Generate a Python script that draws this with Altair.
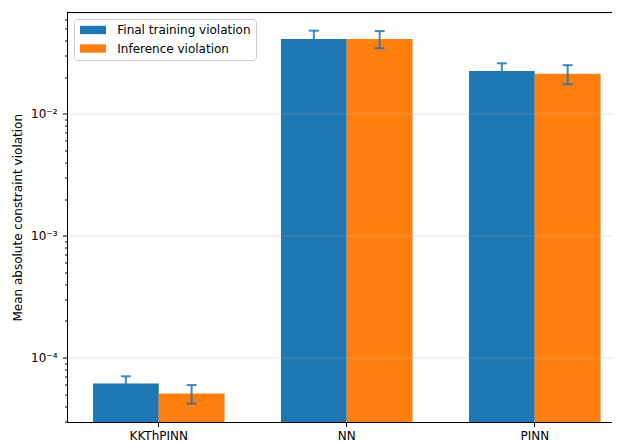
import altair as alt
import pandas as pd

categories = ["KKThPINN", "NN", "PINN"]
series = ["Final training violation", "Inference violation"]
train_vals = [6.12e-5, 0.0412, 0.0225]
train_err = [0.9e-5, 0.0070, 0.0035]
infer_vals = [5.07e-5, 0.0412, 0.0213]
infer_err = [0.88e-5, 0.0066, 0.0038]
colors = ["#1f77b4", "#ff7f0e"]

YMIN, YMAX = 2.96e-5, 0.0679
decades = [1e-5, 1e-4, 1e-3, 1e-2, 1e-1]

rows = []
for i, c in enumerate(categories):
    for s, v, e in ((series[0], train_vals[i], train_err[i]), (series[1], infer_vals[i], infer_err[i])):
        rows.append({"cat": c, "series": s, "val": v, "lo": v - e, "hi": v + e})
df = pd.DataFrame(rows)

tick_vals = []
for d in decades:
    for m in range(1, 10):
        t = d * m
        if YMIN <= t <= YMAX:
            tick_vals.append(t)

W, H = 545, 409.5
XRANGE = 559.5
FONT = "DejaVu Sans"
major = "abs(log(datum.value)/LN10 - round(log(datum.value)/LN10)) < 1e-6"

x_enc = alt.X("cat:N", sort=categories,
              scale=alt.Scale(range=[0, XRANGE], paddingInner=0.3, paddingOuter=0.138),
              axis=alt.Axis(title=None, labelAngle=0, labelFont=FONT, labelFontSize=12,
                            labelColor="black", tickColor="black", tickSize=4.5,
                            domainColor="black", domainWidth=1, labelPadding=3.5,
                            grid=False))
xoff = alt.XOffset("series:N", sort=series, scale=alt.Scale(paddingInner=0, paddingOuter=0))

y_scale = alt.Scale(type="log", domain=[YMIN, YMAX], nice=False)
y_axis = alt.Axis(
    title="Mean absolute constraint violation", titleFont=FONT, titleFontSize=12,
    titleFontWeight="normal", titleColor="black", titleX=-50, titleBaseline="middle",
    values=tick_vals,
    labelExpr="(" + major + ") ? '10⁻' + ['⁰','¹','²','³','⁴','⁵','⁶'][-round(log(datum.value)/LN10)] : ''",
    labelFont=FONT, labelFontSize=12, labelColor="black", labelPadding=5.5,
    tickColor="black",
    tickSize={"condition": {"test": major, "value": 4.5}, "value": 2.5},
    domainColor="black", domainWidth=1,
    grid=True, gridColor="#b0b0b0", gridWidth=1,
    gridOpacity={"condition": {"test": major, "value": 0.3}, "value": 0},
    zindex=1,
)

bars = alt.Chart(df).mark_bar().encode(
    x=x_enc,
    xOffset=xoff,
    y=alt.Y("val:Q", scale=y_scale, axis=y_axis),
    y2=alt.datum(YMIN),
    color=alt.Color("series:N", sort=series,
                    scale=alt.Scale(domain=series, range=colors),
                    legend=alt.Legend(
                        title=None, orient="none", legendX=7, legendY=6.5,
                        symbolType="M-2.6,-0.84H2.6V0.84H-2.6Z", symbolSize=100,
                        symbolStrokeWidth=0, symbolOffset=8, labelOffset=18.3,
                        labelFont=FONT, labelFontSize=12, labelColor="black",
                        padding=5, rowPadding=6.5,
                        fillColor="rgba(255,255,255,0.8)", strokeColor="#cccccc",
                        cornerRadius=3)),
)

err_color = "#1f77b4"
rules = alt.Chart(df).mark_rule(color=err_color, strokeWidth=2, opacity=0.85).encode(
    x=alt.X("cat:N", sort=categories), xOffset=xoff,
    y=alt.Y("lo:Q", scale=y_scale), y2="hi:Q",
)
cap_hi = alt.Chart(df).mark_tick(color=err_color, thickness=2, size=10, opacity=0.85).encode(
    x=alt.X("cat:N", sort=categories), xOffset=xoff, y=alt.Y("hi:Q", scale=y_scale),
)
cap_lo = alt.Chart(df).mark_tick(color=err_color, thickness=2, size=10, opacity=0.85).encode(
    x=alt.X("cat:N", sort=categories), xOffset=xoff, y=alt.Y("lo:Q", scale=y_scale),
)
top_spine = alt.Chart(df).mark_rule(color="black", strokeWidth=1).encode(
    x=alt.value(0), x2=alt.value(XRANGE), y=alt.value(0)
)

chart = alt.layer(bars, rules, cap_hi, cap_lo, top_spine).properties(
    width=W, height=H,
    autosize=alt.AutoSizeParams(type="none"),
    padding={"left": 59, "top": 4.5, "right": 0, "bottom": 22},
).configure_view(stroke=None).configure(background="white")

chart.save("out.html", embed_options={"renderer": "svg", "actions": False})
